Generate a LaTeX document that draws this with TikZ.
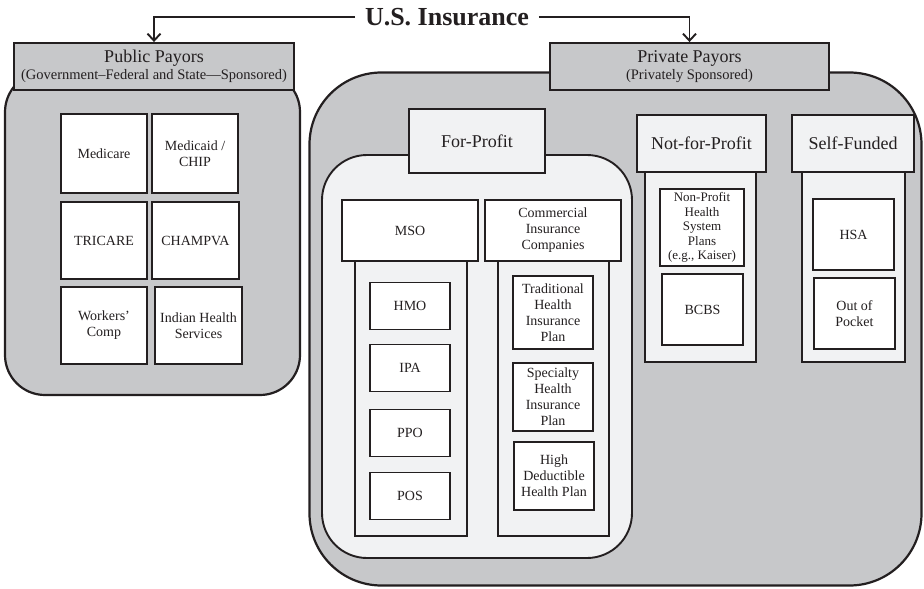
\documentclass[tikz,border=0pt]{standalone}
\usepackage{fontspec}
\setmainfont{Liberation Serif}
\usetikzlibrary{arrows.meta}
\definecolor{panelgray}{RGB}{199,200,202}
\definecolor{palegray}{RGB}{241,242,243}
\definecolor{ink}{RGB}{35,31,32}
\newcommand{\boxfont}{\fontsize{14}{16}\selectfont}
\newcommand{\smallfont}{\fontsize{13}{14.5}\selectfont}
\newcommand{\headfont}{\fontsize{18}{20}\selectfont}
\begin{document}
\begin{tikzpicture}[x=1pt,y=-1pt,
  every node/.style={draw=ink, line width=1.9pt, inner sep=1pt, align=center, text=ink},
  container/.style={fill=panelgray, line width=2.2pt},
  payor/.style={fill=panelgray, font=\headfont},
  category/.style={fill=palegray, font=\headfont},
  subhead/.style={fill=white, font=\boxfont},
  column/.style={fill=palegray},
  plan/.style={fill=white, font=\boxfont},
  link/.style={draw=ink, line width=1.9pt, -{Straight Barb[length=7pt,width=13pt,line width=1.9pt]}}
]
\useasboundingbox (0,0) rectangle (924,589);

% outer panels
\node[container, rounded corners=40pt, minimum width=295pt, minimum height=323pt] (pubpanel) at (152.5,233.5) {};
\node[container, rounded corners=72pt, minimum width=612pt, minimum height=513pt] (privpanel) at (615.5,329) {};

% title and branches
\node[draw=none, font=\fontsize{26}{28}\selectfont\bfseries, inner xsep=9pt] (title) at (447,17) {U.S. Insurance};
\node[payor, minimum width=280pt, minimum height=47pt] (pub) at (154,66.5)
  {Public Payors\\[-3pt]{\fontsize{14.5}{16}\selectfont (Government–Federal and State—Sponsored)}};
\node[payor, minimum width=279pt, minimum height=47pt] (priv) at (689.5,66.5)
  {Private Payors\\[-3pt]{\fontsize{14.5}{16}\selectfont (Privately Sponsored)}};
\draw[link] (title.west) -| (pub.north);
\draw[link] (title.east) -| (priv.north);

% public programs
\node[plan, minimum width=86pt, minimum height=79pt] (medicare) at (104,153.5) {Medicare};
\node[plan, minimum width=86pt, minimum height=79pt] (medicaid) at (195,153.5) {Medicaid /\\CHIP};
\node[plan, minimum width=86pt, minimum height=77pt] (tricare) at (104,240.5) {TRICARE};
\node[plan, minimum width=87pt, minimum height=77pt] (champva) at (195.5,240.5) {CHAMPVA};
\node[plan, minimum width=86pt, minimum height=77pt] (workers) at (104,325.5) {Workers’\\Comp};
\node[plan, minimum width=87pt, minimum height=77pt] (indian) at (198.5,325.5) {Indian Health\\Services};

% for-profit group
\node[column, rounded corners=45pt, minimum width=310pt, minimum height=403pt] (fppanel) at (477,356.5) {};
\node[column, minimum width=112pt, minimum height=275pt] (msocol) at (411,398.5) {};
\node[column, minimum width=111pt, minimum height=275pt] (comcol) at (553.5,398.5) {};
\node[category, minimum width=136pt, minimum height=64pt] (forprofit) at (477,141) {For-Profit};
\node[subhead, minimum width=136pt, minimum height=61pt] (mso) at (410,230.5) {MSO};
\node[subhead, minimum width=136pt, minimum height=61pt] (commercial) at (553,230.5) {Commercial\\Insurance\\Companies};

\node[plan, minimum width=80pt, minimum height=47pt] (hmo) at (410,306) {HMO};
\node[plan, minimum width=80pt, minimum height=47pt] (ipa) at (410,368) {IPA};
\node[plan, minimum width=80pt, minimum height=47pt] (ppo) at (410,433) {PPO};
\node[plan, minimum width=80pt, minimum height=47pt] (pos) at (410,496) {POS};

\node[plan, minimum width=80pt, minimum height=73pt] (traditional) at (553,312.5) {Traditional\\Health\\Insurance\\Plan};
\node[plan, minimum width=80pt, minimum height=68pt] (specialty) at (553,397) {Specialty\\Health\\Insurance\\Plan};
\node[plan, minimum width=80pt, minimum height=68pt] (hdhp) at (554,476) {High\\Deductible\\Health Plan};

% not-for-profit group
\node[column, minimum width=111pt, minimum height=190pt] (nfpcol) at (700.5,267) {};
\node[category, minimum width=129pt, minimum height=57pt] (nfp) at (701.5,143.5) {Not-for-Profit};
\node[plan, font=\smallfont, minimum width=84pt, minimum height=77pt] (nonprofit) at (702,227.5)
  {Non-Profit\\Health\\System\\Plans\\(e.g., Kaiser)};
\node[plan, minimum width=81pt, minimum height=71pt] (bcbs) at (702.5,309.5) {BCBS};

% self-funded group
\node[column, minimum width=103pt, minimum height=190pt] (sfcol) at (853.5,267) {};
\node[category, minimum width=122pt, minimum height=57pt] (selffunded) at (853,143.5) {Self-Funded};
\node[plan, minimum width=81pt, minimum height=71pt] (hsa) at (853.5,234.5) {HSA};
\node[plan, minimum width=81pt, minimum height=71pt] (oop) at (854.5,313.5) {Out of\\Pocket};
\end{tikzpicture}
\end{document}
